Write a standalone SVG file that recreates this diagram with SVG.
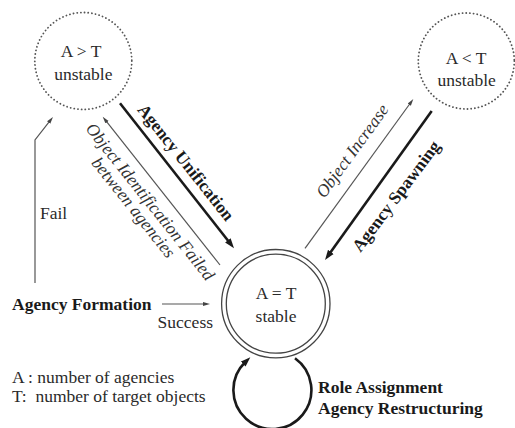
<svg xmlns="http://www.w3.org/2000/svg" width="515" height="428" viewBox="0 0 515 428">
<style>
text{font-family:"Liberation Serif","Times New Roman",serif;font-size:17.5px;fill:#2a2a2a}
.b{font-weight:bold;fill:#1a1a1a}
.i{font-style:italic;fill:#333}
.c{text-anchor:middle}
.dot{fill:none;stroke:#555;stroke-width:1.8;stroke-dasharray:0.1 3.6;stroke-linecap:round}
.ring{fill:none;stroke:#444;stroke-width:1.3}
.thick{fill:none;stroke:#1a1a1a;stroke-width:2.6}
.thin{fill:none;stroke:#555;stroke-width:1.2}
</style>
<defs>
<marker id="ah" markerUnits="userSpaceOnUse" markerWidth="11" markerHeight="8" refX="3" refY="4" orient="auto"><path d="M0,0.5 L10,4 L0,7.5 z" fill="#1a1a1a"/></marker>
<marker id="at" markerUnits="userSpaceOnUse" markerWidth="8" markerHeight="5" refX="2" refY="2.5" orient="auto"><path d="M0,0.5 L7,2.5 L0,4.5 z" fill="#444"/></marker>
</defs>
<g id="node-agt">
<circle class="dot" cx="83.3" cy="61" r="48.5"/>
<text class="c" x="81" y="57">A &gt; T</text>
<text class="c" x="83.3" y="80">unstable</text>
</g>
<g id="node-alt">
<circle class="dot" cx="466.3" cy="61" r="48"/>
<text class="c" x="466" y="63.5">A &lt; T</text>
<text class="c" x="466.7" y="86">unstable</text>
</g>
<g id="node-aet">
<circle class="ring" cx="275.8" cy="303.7" r="54.2"/>
<circle class="ring" cx="275.8" cy="303.7" r="49.5"/>
<text class="c" x="276" y="298.5">A = T</text>
<text class="c" x="276" y="322">stable</text>
</g>
<g id="node-formation">
<text class="b" x="12" y="310">Agency Formation</text>
</g>
<g id="legend">
<text x="12" y="383">A : number of agencies</text>
<text x="12" y="402">T:&#160; number of target objects</text>
</g>
<g id="connectors">
<line class="thick" x1="120" y1="103.3" x2="229.7" y2="242.8" marker-end="url(#ah)"/>
<line class="thin" x1="220" y1="265" x2="105.8" y2="120.6" marker-end="url(#at)"/>
<line class="thin" x1="305" y1="248.3" x2="410.4" y2="103" marker-end="url(#at)"/>
<line class="thick" x1="431.7" y1="111" x2="329.1" y2="254.3" marker-end="url(#ah)"/>
<path class="thin" d="M35,283 L35,140 L49.9,120.9" marker-end="url(#at)"/>
<line class="thin" x1="162" y1="304" x2="205" y2="304" marker-end="url(#at)"/>
<path class="thick" d="M295,358.3 A39,39 0 1 1 245.3,362" marker-end="url(#ah)"/>
<text class="b c" transform="translate(181.5,166) rotate(51.5)">Agency Unification</text>
<text class="i c" transform="translate(145.7,205.3) rotate(51.5)">Object Identification Failed</text>
<text class="i c" transform="translate(129,211.1) rotate(51.5)">between agencies</text>
<text class="i c" transform="translate(356.9,154.3) rotate(-54)">Object Increase</text>
<text class="b c" transform="translate(400.7,199.6) rotate(-53)">Agency Spawning</text>
<text x="40" y="219">Fail</text>
<text x="213" y="328" style="text-anchor:end">Success</text>
<text class="b" x="318" y="393">Role Assignment</text>
<text class="b" x="318" y="413.5">Agency Restructuring</text>
</g>
</svg>
